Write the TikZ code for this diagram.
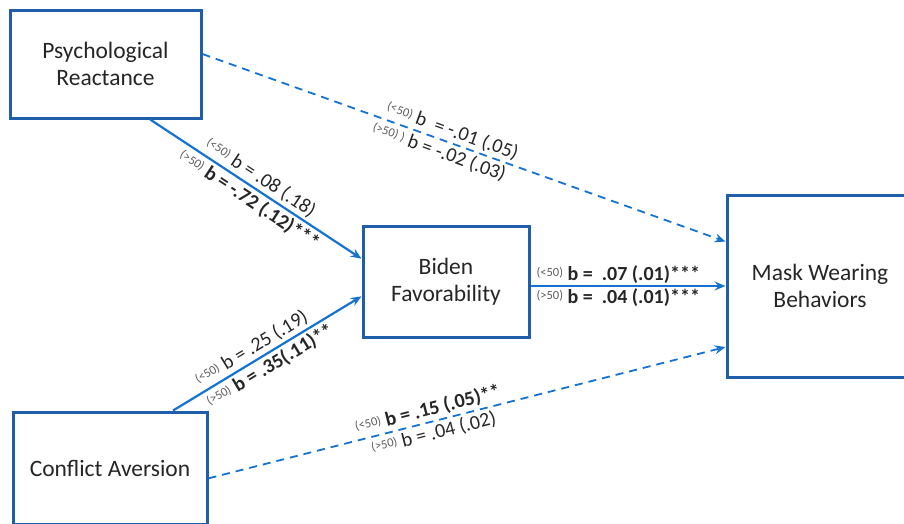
\documentclass[tikz,border=0pt]{standalone}
\usepackage{fontspec}
\setmainfont{Carlito}
\usetikzlibrary{arrows.meta,calc}
\definecolor{boxblue}{RGB}{30,94,170}
\definecolor{lineblue}{RGB}{20,115,210}
\definecolor{txt}{RGB}{38,38,38}
\newcommand\grpl[1]{\raisebox{3.5pt}{\fontsize{12.5}{13}\selectfont\mdseries\color{txt!75}#1}}
\begin{document}
\begin{tikzpicture}[x=1pt,y=-1pt,
  box/.style={draw=boxblue, line width=3pt, fill=white, align=center, text=txt,
    font=\fontsize{23.5}{27}\selectfont, inner sep=0pt},
  conn/.style={draw=lineblue, line width=2.2pt, -{Stealth[length=11pt,width=9pt,inset=4pt]}},
  dconn/.style={conn, line width=1.8pt, dash pattern=on 8pt off 6pt},
  lab/.style={sloped, font=\fontsize{20}{21}\selectfont, text=txt, inner sep=0.5pt},
]
\useasboundingbox (0,0) rectangle (904,523);
\node[box, minimum width=191pt, minimum height=108pt] (pr) at (105.5,64) {Psychological\\Reactance};
\node[box, minimum width=166pt, minimum height=111pt] (bf) at (446,281.5) {Biden\\Favorability};
\node[box, minimum width=186pt, minimum height=182pt] (mw) at (820,286) {Mask Wearing\\Behaviors};
\node[box, minimum width=194pt, minimum height=112pt] (ca) at (110,468) {Conflict Aversion};

\coordinate (prE) at ($(pr.north east)!0.41!(pr.south east)$);
\coordinate (prS) at ($(pr.south west)!0.73!(pr.south east)$);
\coordinate (bfA) at ($(bf.north west)!0.30!(bf.south west)$);
\coordinate (bfB) at ($(bf.north west)!0.63!(bf.south west)$);
\coordinate (mwA) at ($(mw.north west)!0.26!(mw.south west)$);
\coordinate (mwB) at ($(mw.north west)!0.83!(mw.south west)$);
\coordinate (caN) at ($(ca.north west)!0.82!(ca.north east)$);
\coordinate (caE) at ($(ca.north east)!0.59!(ca.south east)$);

\draw[dconn] (prE) -- (mwA)
  node[lab, pos=0.47, above=2pt] {\grpl{(<50)} b\ \ = -.01 (.05)}
  node[lab, pos=0.46, below=2pt] {\grpl{(>50) )} b = -.02 (.03)};
\draw[conn] (prS) -- (bfA)
  node[lab, pos=0.49, above=2pt] {\grpl{(<50)} b = .08 (.18)}
  node[lab, pos=0.50, below=2pt] {\grpl{(>50)} \textbf{b = -.72 (.12)***}};
\draw[conn] (caN) -- (bfB)
  node[lab, pos=0.45, above=2pt] {\grpl{(<50)} b = .25 (.19)}
  node[lab, pos=0.48, below=2pt] {\grpl{(>50)} \textbf{b = .35(.11)**}};
\draw[conn] (bf.east |- mw.west) -- (mw.west)
  node[lab, pos=0.45, above=1pt] {\grpl{(<50)} \textbf{b =\ \ .07 (.01)***}}
  node[lab, pos=0.45, below=1pt] {\grpl{(>50)} \textbf{b =\ \ .04 (.01)***}};
\draw[dconn] (caE) -- (mwB)
  node[lab, pos=0.43, above=2pt] {\grpl{(<50)} \textbf{b = .15 (.05)**}}
  node[lab, pos=0.43, below=2pt] {\grpl{(>50)} b = .04 (.02)};
\end{tikzpicture}
\end{document}
